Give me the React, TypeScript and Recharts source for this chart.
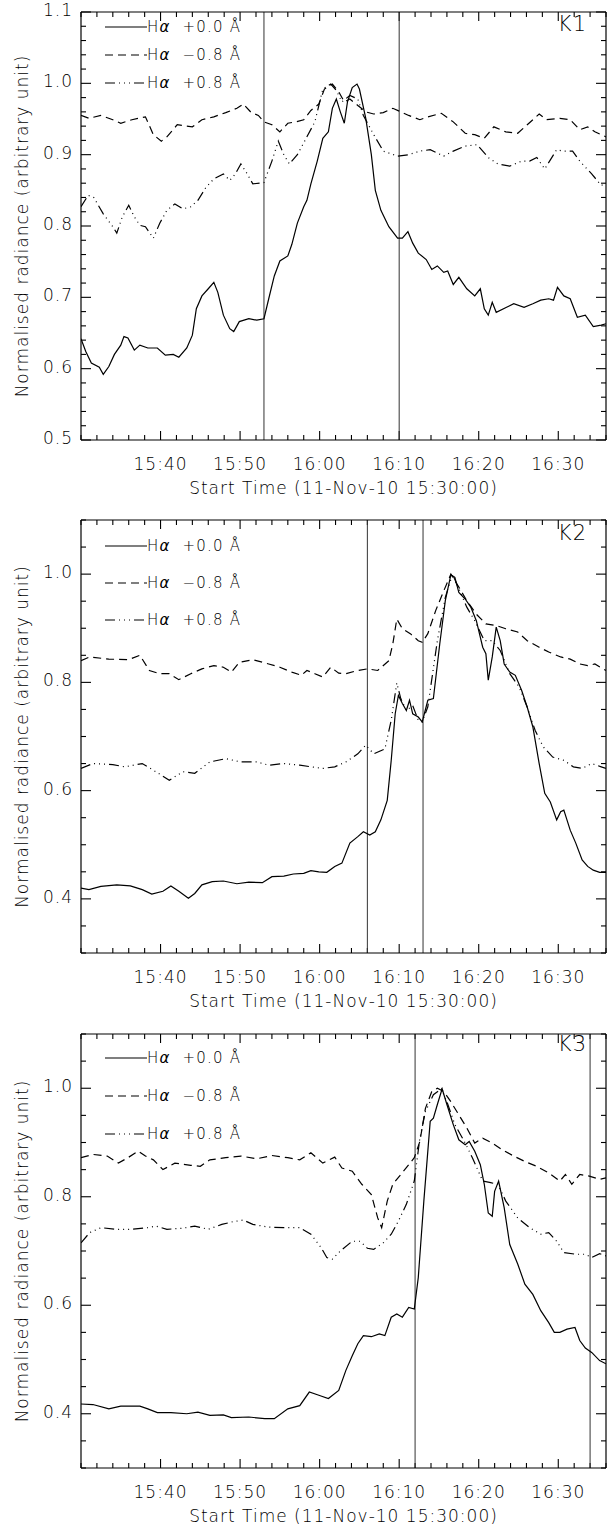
import React from 'react';
import { LineChart, Line, XAxis, YAxis, ReferenceLine, Legend } from 'recharts';

const FONT = '"DejaVu Sans", "Liberation Sans", sans-serif';
const FONT_WEIGHT = 200;
const INK = '#000';

// time axis: minutes after 15:30:00
const timeMajor = [10, 20, 30, 40, 50, 60];
const timeLabels = ['15:40', '15:50', '16:00', '16:10', '16:20', '16:30'];
const timeEnd = 66;
const timeMinorStep = 2;

const seriesNames = ['+0.0', '\u22120.8', '+0.8'];
const seriesDash = ['', '8 5', '10 4 1 4 1 4 1 4'];

type Pt = [number, number];

// ---- K1 ----
const k1Core: Pt[] = [
  [0, 0.642], [0.6, 0.624], [1.3, 0.608], [2.3, 0.602], [2.8, 0.592], [3.5, 0.603], [4.2, 0.62], [5, 0.633],
  [5.4, 0.645], [5.9, 0.643], [6.7, 0.626], [7.4, 0.633], [8.4, 0.629], [9.6, 0.629], [10.6, 0.619], [11.6, 0.62],
  [12.3, 0.616], [13.3, 0.629], [14, 0.647], [14.5, 0.684], [15.2, 0.702], [16, 0.712], [16.7, 0.721], [17.2, 0.707],
  [17.9, 0.675], [18.7, 0.656], [19.2, 0.652], [19.9, 0.666], [21.1, 0.67], [22.1, 0.668], [23, 0.67], [23.6, 0.698],
  [24.3, 0.73], [25, 0.751], [26, 0.758], [26.5, 0.774], [27.2, 0.804], [28, 0.827], [28.4, 0.836], [28.9, 0.859],
  [29.7, 0.891], [30.4, 0.923], [31.1, 0.932], [31.6, 0.965], [32.1, 0.978], [32.6, 0.96], [33.1, 0.944], [33.5, 0.974],
  [34.1, 0.994], [34.7, 0.999], [35, 0.992], [35.8, 0.951], [36.5, 0.9], [37, 0.85], [37.7, 0.822], [38.7, 0.799],
  [39.8, 0.783], [40.4, 0.783], [41.1, 0.792], [41.7, 0.776], [42.4, 0.762], [43.4, 0.753], [44.1, 0.739], [44.8, 0.744],
  [45.6, 0.735], [46.1, 0.737], [46.8, 0.718], [47.5, 0.728], [48.5, 0.712], [49.5, 0.702], [50.2, 0.712], [50.7, 0.684],
  [51.2, 0.675], [51.7, 0.693], [52.2, 0.679], [53.5, 0.686], [54.4, 0.691], [55.7, 0.686], [56.8, 0.691], [57.8, 0.696],
  [58.8, 0.698], [59.4, 0.696], [59.9, 0.714], [60.7, 0.702], [61.5, 0.698], [62.4, 0.672], [63.4, 0.675], [64.4, 0.659],
  [65.4, 0.661], [66, 0.663],
];
const k1Blue: Pt[] = [
  [0, 0.955], [1, 0.951], [2.5, 0.955], [4, 0.949], [5, 0.944], [6.4, 0.949], [8.1, 0.953], [9.1, 0.928],
  [10.1, 0.919], [10.8, 0.925], [12.1, 0.942], [14, 0.939], [15.2, 0.949], [16.7, 0.953], [18.2, 0.959], [19.6, 0.965],
  [20.4, 0.971], [21.4, 0.959], [22.3, 0.955], [23, 0.946], [24, 0.942], [25, 0.932], [26, 0.944], [27, 0.946],
  [28, 0.949], [28.9, 0.962], [29.9, 0.971], [30.6, 0.992], [31.6, 0.999], [32.4, 0.988], [33.1, 0.974], [33.8, 0.978],
  [34.8, 0.969], [35.8, 0.96], [36.8, 0.957], [38, 0.959], [39.2, 0.965], [40.2, 0.96], [41.2, 0.955], [42.6, 0.949],
  [43.6, 0.953], [45.3, 0.958], [46.8, 0.946], [48.3, 0.93], [49.5, 0.928], [50.7, 0.923], [51.9, 0.939], [53.4, 0.932],
  [54.9, 0.93], [56.1, 0.942], [57.6, 0.957], [58.5, 0.949], [60.2, 0.951], [61.5, 0.949], [62.7, 0.935], [63.7, 0.939],
  [64.6, 0.932], [66, 0.925],
];
const k1Red: Pt[] = [
  [0, 0.827], [0.9, 0.843], [1.6, 0.84], [2.8, 0.817], [4, 0.799], [4.5, 0.79], [5.2, 0.813], [6, 0.829],
  [6.7, 0.813], [7.4, 0.801], [8.1, 0.799], [9.1, 0.783], [9.9, 0.804], [10.8, 0.822], [11.8, 0.831], [12.8, 0.824],
  [13.8, 0.827], [14.7, 0.836], [15.7, 0.854], [16.7, 0.866], [17.9, 0.873], [18.7, 0.864], [19.4, 0.873], [20.1, 0.887],
  [20.9, 0.873], [21.6, 0.859], [23, 0.861], [24, 0.891], [24.8, 0.919], [25.5, 0.9], [26.2, 0.887], [27.2, 0.9],
  [28.4, 0.925], [29.4, 0.946], [30.4, 0.992], [31.4, 0.999], [32.1, 0.99], [32.8, 0.974], [33.8, 0.983], [34.8, 0.978],
  [35.5, 0.955], [36.8, 0.928], [38, 0.905], [39.8, 0.898], [41.2, 0.9], [42.6, 0.905], [43.9, 0.907], [45.6, 0.898],
  [46.8, 0.905], [48.3, 0.912], [49.8, 0.914], [51.2, 0.896], [52.4, 0.887], [53.9, 0.884], [55.4, 0.891], [56.4, 0.891],
  [57.3, 0.896], [58.3, 0.88], [59.8, 0.907], [60.6, 0.905], [61.8, 0.905], [62.7, 0.891], [64.2, 0.873], [65.4, 0.857],
  [66, 0.859],
];

// ---- K2 ----
const k2Core: Pt[] = [
  [0, 0.42], [1, 0.417], [2.5, 0.423], [4.5, 0.426], [6.2, 0.424], [7.7, 0.417], [8.9, 0.409], [10.3, 0.414],
  [11.3, 0.424], [12.3, 0.414], [13.5, 0.401], [14.3, 0.41], [15.2, 0.426], [16.5, 0.432], [17.9, 0.433], [19.6, 0.428],
  [21.1, 0.431], [22.8, 0.43], [24, 0.441], [25.5, 0.442], [26.7, 0.446], [28, 0.447], [28.9, 0.452], [29.9, 0.45],
  [30.9, 0.449], [31.9, 0.46], [32.8, 0.466], [33.8, 0.503], [34.8, 0.515], [35.5, 0.524], [36.3, 0.518], [37, 0.524],
  [37.7, 0.546], [38.5, 0.582], [39, 0.656], [39.5, 0.742], [39.9, 0.776], [40.4, 0.761], [40.9, 0.748], [41.3, 0.767],
  [41.7, 0.742], [42.4, 0.736], [42.9, 0.727], [43.6, 0.767], [44.3, 0.77], [45.1, 0.871], [45.8, 0.951], [46.5, 0.999],
  [47, 0.994], [47.5, 0.966], [48.3, 0.954], [49, 0.939], [49.7, 0.914], [50.5, 0.865], [50.9, 0.853], [51.2, 0.804],
  [51.7, 0.847], [52.2, 0.902], [52.7, 0.877], [53.2, 0.834], [53.9, 0.819], [54.6, 0.813], [55.4, 0.785], [56.1, 0.754],
  [56.8, 0.718], [57.6, 0.65], [58.3, 0.595], [59, 0.579], [59.8, 0.546], [60.3, 0.561], [60.7, 0.564], [61.5, 0.527],
  [62.2, 0.503], [63, 0.472], [63.7, 0.46], [64.4, 0.453], [65.2, 0.449], [66, 0.449],
];
const k2Blue: Pt[] = [
  [0, 0.84], [1.1, 0.847], [3.5, 0.843], [6, 0.842], [7.4, 0.85], [8.6, 0.822], [9.9, 0.816], [11.1, 0.816],
  [12.3, 0.805], [13.8, 0.816], [15.2, 0.825], [16.7, 0.831], [17.9, 0.828], [18.9, 0.819], [19.9, 0.837], [21.6, 0.842],
  [23.6, 0.834], [25, 0.828], [26.5, 0.819], [27.7, 0.813], [28.4, 0.822], [29.4, 0.816], [30.4, 0.81], [31.4, 0.828],
  [32.4, 0.817], [33.3, 0.816], [34.8, 0.822], [36, 0.825], [37.3, 0.822], [38.7, 0.84], [39.2, 0.871], [39.7, 0.917],
  [40.4, 0.899], [41.4, 0.89], [42.4, 0.877], [42.9, 0.874], [43.6, 0.89], [44.6, 0.933], [45.6, 0.969], [46.5, 1],
  [47.5, 0.976], [48.5, 0.951], [49.7, 0.926], [50.9, 0.908], [52.2, 0.905], [53.4, 0.899], [54.9, 0.893], [56.1, 0.877],
  [57.6, 0.865], [58.8, 0.856], [60.3, 0.847], [61.5, 0.843], [62.7, 0.834], [63.7, 0.831], [64.6, 0.834], [66, 0.822],
];
const k2Red: Pt[] = [
  [0, 0.641], [1.5, 0.65], [4, 0.648], [5.5, 0.644], [7.7, 0.65], [9.4, 0.635], [11.1, 0.619], [12.8, 0.635],
  [14.3, 0.632], [16.2, 0.653], [18.2, 0.659], [20.1, 0.653], [22.1, 0.653], [23.6, 0.647], [25.5, 0.65], [27.5, 0.647],
  [28.9, 0.644], [30.4, 0.641], [31.9, 0.644], [33.3, 0.653], [34.8, 0.668], [35.8, 0.684], [36.8, 0.668], [38.2, 0.677],
  [39, 0.73], [39.7, 0.799], [40.2, 0.77], [40.9, 0.748], [41.7, 0.757], [42.4, 0.73], [42.9, 0.727], [43.6, 0.755],
  [44.8, 0.877], [45.8, 0.957], [46.7, 1], [47.5, 0.973], [48.5, 0.939], [49.5, 0.914], [50.7, 0.877], [51.7, 0.877],
  [52.7, 0.859], [53.9, 0.816], [55.1, 0.791], [56.1, 0.754], [57.1, 0.711], [58.1, 0.681], [59.3, 0.662], [60.7, 0.656],
  [61.9, 0.644], [63, 0.641], [64.2, 0.65], [65.4, 0.644], [66, 0.641],
];

// ---- K3 ----
const k3Core: Pt[] = [
  [0, 0.418], [1.5, 0.417], [3.5, 0.409], [5, 0.414], [7.4, 0.414], [8.4, 0.409], [9.6, 0.402], [11.3, 0.402],
  [13.3, 0.4], [14.7, 0.403], [16.2, 0.397], [17.9, 0.398], [18.9, 0.393], [21.1, 0.394], [23.1, 0.391], [24.3, 0.391],
  [26, 0.409], [27.5, 0.415], [28.7, 0.44], [29.9, 0.434], [31.1, 0.428], [32.4, 0.443], [33.3, 0.48], [34.1, 0.507],
  [34.8, 0.529], [35.5, 0.544], [36.5, 0.542], [37.5, 0.547], [38.2, 0.544], [39, 0.578], [39.7, 0.584], [40.4, 0.578],
  [41.2, 0.596], [41.9, 0.593], [42.4, 0.651], [43.1, 0.792], [43.9, 0.939], [44.3, 0.945], [44.8, 0.97], [45.4, 0.999],
  [46, 0.97], [46.8, 0.933], [47.5, 0.905], [48.3, 0.896], [48.8, 0.902], [49.5, 0.884], [50.2, 0.859], [50.7, 0.823],
  [51.2, 0.77], [51.7, 0.764], [52, 0.81], [52.5, 0.829], [53.2, 0.78], [53.9, 0.712], [54.9, 0.676], [55.8, 0.639],
  [56.8, 0.62], [57.8, 0.59], [58.8, 0.568], [59.5, 0.55], [60.2, 0.55], [61.1, 0.556], [62.1, 0.559], [62.7, 0.535],
  [63.4, 0.521], [64.2, 0.513], [65.2, 0.498], [66, 0.492],
];
const k3Blue: Pt[] = [
  [0, 0.872], [1.5, 0.878], [3.3, 0.875], [4.7, 0.862], [5.9, 0.872], [7.2, 0.884], [8.1, 0.875], [9.1, 0.868],
  [10.3, 0.85], [11.8, 0.862], [13.8, 0.858], [15, 0.856], [16.2, 0.868], [18.2, 0.872], [20.1, 0.875], [22.1, 0.87],
  [24, 0.876], [26, 0.872], [27.5, 0.868], [28.9, 0.881], [30.4, 0.862], [31.9, 0.873], [32.8, 0.853], [34.1, 0.847],
  [35.3, 0.823], [36.5, 0.804], [37.3, 0.761], [37.8, 0.743], [38.5, 0.792], [39.2, 0.823], [40.2, 0.841], [41.2, 0.859],
  [41.9, 0.872], [42.6, 0.902], [43.3, 0.963], [44.1, 0.994], [44.8, 1], [45.6, 0.994], [46.5, 0.975], [47.5, 0.951],
  [48.5, 0.927], [49.5, 0.899], [50.5, 0.908], [51.7, 0.899], [52.9, 0.887], [54.4, 0.875], [55.8, 0.865], [57.3, 0.856],
  [58.8, 0.844], [60.2, 0.829], [60.9, 0.841], [61.7, 0.823], [62.7, 0.841], [63.9, 0.838], [65.2, 0.832], [66, 0.835],
];
const k3Red: Pt[] = [
  [0, 0.715], [1.1, 0.734], [2.5, 0.743], [4.5, 0.74], [6.4, 0.74], [8.4, 0.743], [9.4, 0.746], [10.8, 0.74],
  [12.8, 0.742], [14.3, 0.746], [16, 0.74], [17.7, 0.749], [19.1, 0.754], [20.4, 0.757], [21.6, 0.749], [23.6, 0.744],
  [25.5, 0.743], [27.5, 0.743], [28.9, 0.731], [30.2, 0.706], [30.9, 0.688], [31.6, 0.685], [32.6, 0.7], [34.1, 0.718],
  [35.1, 0.718], [36, 0.705], [36.8, 0.703], [38, 0.715], [39, 0.731], [39.9, 0.755], [40.9, 0.786], [41.9, 0.829],
  [42.6, 0.908], [43.3, 0.957], [44.3, 0.988], [45.3, 0.999], [46, 0.975], [47, 0.933], [48.3, 0.899], [49.2, 0.872],
  [50.5, 0.829], [51.5, 0.826], [52.4, 0.823], [53.4, 0.792], [54.9, 0.761], [56.4, 0.743], [57.8, 0.731], [58.8, 0.734],
  [59.8, 0.718], [60.7, 0.697], [62.2, 0.694], [63.4, 0.694], [64.2, 0.688], [65.2, 0.695], [66, 0.691],
];

const k1Marks = [23, 40];
const k2Marks = [36, 43];
const k3Marks = [42, 64];

const k1YLabels = [0.5, 0.6, 0.7, 0.8, 0.9, 1.0, 1.1];
const k23YLabels = [0.4, 0.6, 0.8, 1.0];

const toRows = (pts: Pt[]) => pts.map(([t, v]) => ({ t, v }));

const panels = [
  {
    tag: 'K1', series: [k1Core, k1Blue, k1Red], marks: k1Marks, yLabels: k1YLabels,
    yMin: 0.5, yMax: 1.1, yStep: 0.02,
    top: 0, height: 510, plotTop: 12, xAxisHeight: 70, legendTop: 13, legendRow: 28, tagDy: 19,
  },
  {
    tag: 'K2', series: [k2Core, k2Blue, k2Red], marks: k2Marks, yLabels: k23YLabels,
    yMin: 0.3, yMax: 1.1, yStep: 0.05,
    top: 500, height: 523, plotTop: 20, xAxisHeight: 70, legendTop: 27, legendRow: 37, tagDy: 20,
  },
  {
    tag: 'K3', series: [k3Core, k3Blue, k3Red], marks: k3Marks, yLabels: k23YLabels,
    yMin: 0.3, yMax: 1.1, yStep: 0.05,
    top: 1014, height: 516, plotTop: 20, xAxisHeight: 62, legendTop: 25, legendRow: 38, tagDy: 17,
  },
];

const timeTicks = Array.from({ length: timeEnd / timeMinorStep + 1 }, (_, i) => i * timeMinorStep);

const makeYTicks = (lo: number, hi: number, step: number) =>
  Array.from({ length: Math.round((hi - lo) / step) + 1 }, (_, i) => Math.round((lo + i * step) * 1000) / 1000);

const near = (list: number[], v: number) => list.findIndex((l) => Math.abs(l - v) < 1e-6);

const textStyle = { fontFamily: FONT, fontWeight: FONT_WEIGHT, fontSize: 17, letterSpacing: 1, fill: '#000' };

// inward tick marks on both ends of a reference line spanning the plot
const tickMark = (len: number) => (sp: any) => {
  const { x1, y1, x2, y2 } = sp;
  if (Math.abs(x1 - x2) < 0.5) {
    const top = Math.min(y1, y2);
    const bot = Math.max(y1, y2);
    return (
      <g>
        <line x1={x1} x2={x1} y1={bot} y2={bot - len} stroke={INK} strokeWidth={1.1} />
        <line x1={x1} x2={x1} y1={top} y2={top + len} stroke={INK} strokeWidth={1.1} />
      </g>
    );
  }
  const left = Math.min(x1, x2);
  const right = Math.max(x1, x2);
  return (
    <g>
      <line x1={left} x2={left + len} y1={y1} y2={y1} stroke={INK} strokeWidth={1.1} />
      <line x1={right} x2={right - len} y1={y1} y2={y1} stroke={INK} strokeWidth={1.1} />
    </g>
  );
};

const TimeLabel = (props: any) => {
  const { x, y, payload } = props;
  const idx = near(timeMajor, payload.value);
  if (idx < 0) return <g />;
  return (
    <text x={x} y={y + 30} textAnchor="middle" style={textStyle}>
      {timeLabels[idx]}
    </text>
  );
};

const makeValueLabel = (labels: number[]) => (props: any) => {
  const { x, y, payload } = props;
  const idx = near(labels, payload.value);
  if (idx < 0) return <g />;
  return (
    <text x={x - 8} y={y - 2} textAnchor="end" dominantBaseline="central" style={textStyle}>
      {labels[idx].toFixed(1)}
    </text>
  );
};

const LegendBox = ({ row }: { row: number }) => (
  <div style={{ fontFamily: FONT, fontWeight: FONT_WEIGHT, fontSize: 15, letterSpacing: 1.2, color: '#000' }}>
    {seriesNames.map((name, i) => (
      <div key={name} style={{ display: 'flex', alignItems: 'center', height: row }}>
        <svg width={42} height={4} style={{ display: 'block' }}>
          <line x1={0} x2={42} y1={2} y2={2} stroke="#000" strokeWidth={1.2} strokeDasharray={seriesDash[i] || undefined} />
        </svg>
        <span style={{ whiteSpace: 'pre' }}>
          H<i>α</i>{'  '}{name}{' '}Å
        </span>
      </div>
    ))}
  </div>
);

const Panel = ({ p }: { p: (typeof panels)[number] }) => {
  const yTicks = makeYTicks(p.yMin, p.yMax, p.yStep);
  return (
    <div style={{ position: 'absolute', left: 0, top: p.top }}>
      <LineChart width={610} height={p.height} margin={{ top: p.plotTop, right: 3, bottom: 0, left: 0 }}>
        <XAxis
          xAxisId="b" dataKey="t" type="number" domain={[0, timeEnd]} ticks={timeMajor} interval={0}
          height={p.xAxisHeight} tickSize={0} tickMargin={0} tickLine={false} axisLine={false} allowDataOverflow
          tick={(tp: any) => <TimeLabel {...tp} />}
          label={{
            content: (lp: any) => {
              const vb = lp.viewBox;
              return (
                <text x={vb.x + vb.width / 2} y={vb.y + 54} textAnchor="middle" style={textStyle}>
                  Start Time (11-Nov-10 15:30:00)
                </text>
              );
            },
          }}
        />
        <YAxis
          yAxisId="l" type="number" domain={[p.yMin, p.yMax]} ticks={p.yLabels} interval={0} width={81}
          tickSize={0} tickMargin={0} tickLine={false} axisLine={false} allowDataOverflow
          tick={makeValueLabel(p.yLabels)}
          label={{
            content: (lp: any) => {
              const vb = lp.viewBox;
              const cy = vb.y + vb.height / 2;
              return (
                <text x={22} y={cy} transform={`rotate(-90, 22, ${cy})`} textAnchor="middle" dominantBaseline="central" style={textStyle}>
                  Normalised radiance (arbitrary unit)
                </text>
              );
            },
          }}
        />
        <YAxis
          yAxisId="r" orientation="right" type="number" domain={[p.yMin, p.yMax]} ticks={p.yLabels} width={1}
          tick={false} tickLine={false} axisLine={false} allowDataOverflow
          label={{
            content: (lp: any) => {
              const vb = lp.viewBox;
              return (
                <text x={vb.x - 19} y={vb.y + p.tagDy} textAnchor="end" style={{ ...textStyle, fontSize: 21 }}>
                  {p.tag}
                </text>
              );
            },
          }}
        />

        {/* inward ticks on all four sides, placed by the axis scales */}
        {timeTicks.map((t) => (
          <ReferenceLine key={`xt${t}`} x={t} xAxisId="b" yAxisId="l" stroke="none"
            shape={tickMark(near(timeMajor, t) >= 0 ? 9 : 5)} />
        ))}
        {yTicks.map((v) => (
          <ReferenceLine key={`yt${v}`} y={v} xAxisId="b" yAxisId="l" stroke="none"
            shape={tickMark(near(p.yLabels, v) >= 0 ? 10 : 5)} />
        ))}

        {p.marks.map((m) => (
          <ReferenceLine key={m} x={m} xAxisId="b" yAxisId="l" stroke="#333" strokeWidth={1} />
        ))}
        <ReferenceLine x={0} xAxisId="b" yAxisId="l" stroke={INK} strokeWidth={1.2} />
        <ReferenceLine x={timeEnd} xAxisId="b" yAxisId="l" stroke={INK} strokeWidth={1.2} />
        <ReferenceLine y={p.yMax} xAxisId="b" yAxisId="l" stroke={INK} strokeWidth={1.2} />
        <ReferenceLine y={p.yMin} xAxisId="b" yAxisId="l" stroke={INK} strokeWidth={1.2} />
        {p.series.map((s, i) => (
          <Line
            key={i} xAxisId="b" yAxisId="l" data={toRows(s)} dataKey="v" type="linear" stroke="#000" strokeWidth={1.2}
            strokeDasharray={seriesDash[i] || undefined} dot={false} activeDot={false} isAnimationActive={false}
          />
        ))}
        <Legend
          layout="vertical" align="center" verticalAlign="middle"
          wrapperStyle={{ top: p.legendTop, left: 105, width: 'auto' }}
          content={() => <LegendBox row={p.legendRow} />}
        />
      </LineChart>
    </div>
  );
};

export default function App() {
  return (
    <div style={{ position: 'absolute', left: 0, top: 0, width: 610, height: 1530, background: '#fff' }}>
      {panels.map((p) => (
        <Panel key={p.tag} p={p} />
      ))}
    </div>
  );
}
